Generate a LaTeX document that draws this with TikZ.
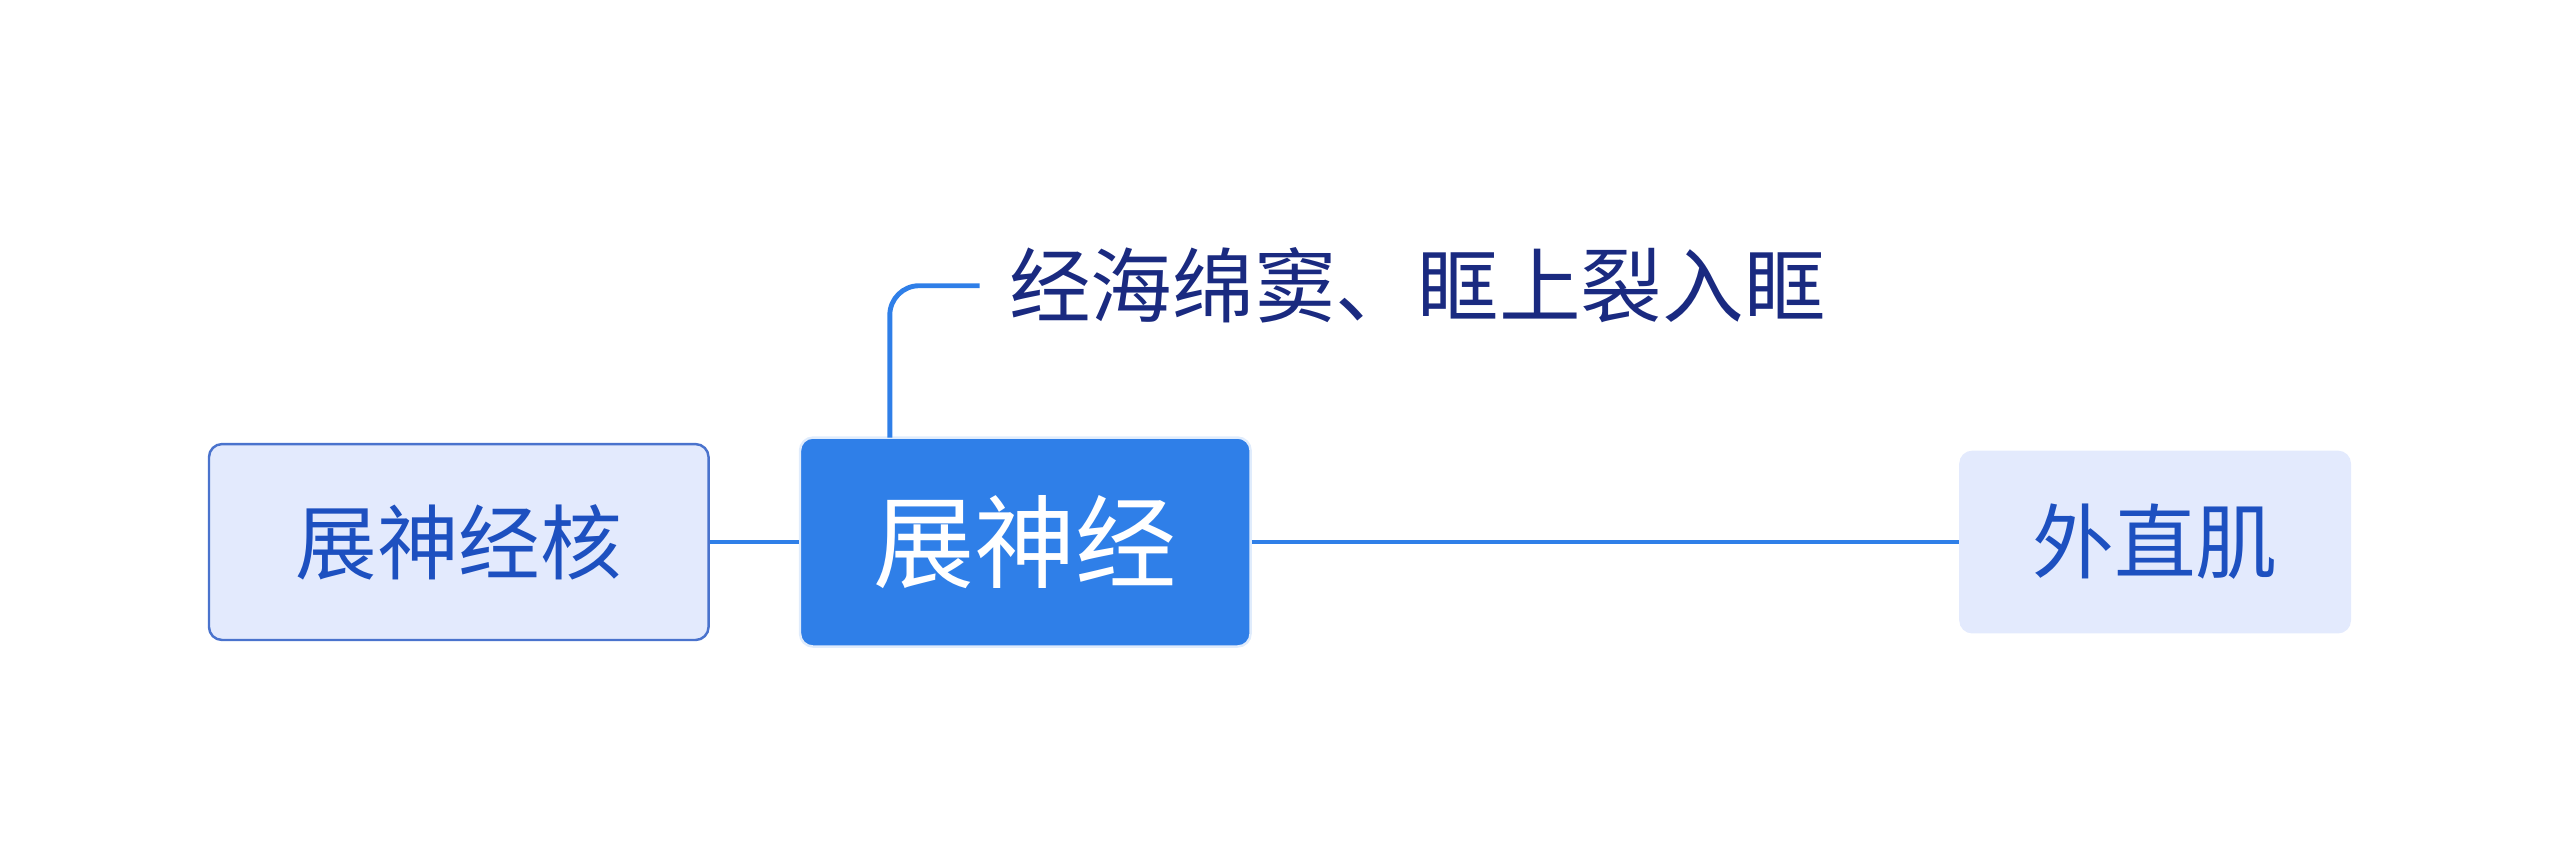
\documentclass[tikz,border=0pt]{standalone}
\usepackage{fontspec}
\newfontfamily\cjk{Noto Sans CJK SC}
\definecolor{lineblue}{HTML}{2F7FE8}
\definecolor{pale}{HTML}{E3EAFD}
\definecolor{txtblue}{HTML}{1D50C0}
\definecolor{dark}{HTML}{1A2A80}
\begin{document}
\begin{tikzpicture}[x=1pt,y=1pt,
  conn/.style={draw=lineblue,line width=3pt},
  topic/.style={rounded corners=8pt,inner sep=0pt,font=\cjk\fontsize{50}{60}\selectfont,text=txtblue}]
\useasboundingbox (0,0) rectangle (1568,523);
\node[topic,fill=pale,draw=txtblue!80,line width=1.5pt,minimum width=306pt,minimum height=120pt] (L) at (281,191) {展神经核};
\node[topic,fill=lineblue,draw=white!85!lineblue,line width=1.5pt,minimum width=276pt,minimum height=128pt,text=white,font=\cjk\fontsize{62}{70}\selectfont] (C) at (628,191) {展神经};
\node[topic,fill=pale,minimum width=240pt,minimum height=112pt] (R) at (1320,191) {外直肌};
\node[anchor=west,inner sep=0pt,text=dark,font=\cjk\fontsize{50}{60}\selectfont] (T) at (618,348) {经海绵窦、眶上裂入眶};
\coordinate (tc) at (600,348);
\draw[conn] (L.east) -- (C.west);
\draw[conn] (C.east) -- (R.west);
\draw[conn,rounded corners=18pt] (545,255) -- (545,348) -- (tc);
\end{tikzpicture}
\end{document}
